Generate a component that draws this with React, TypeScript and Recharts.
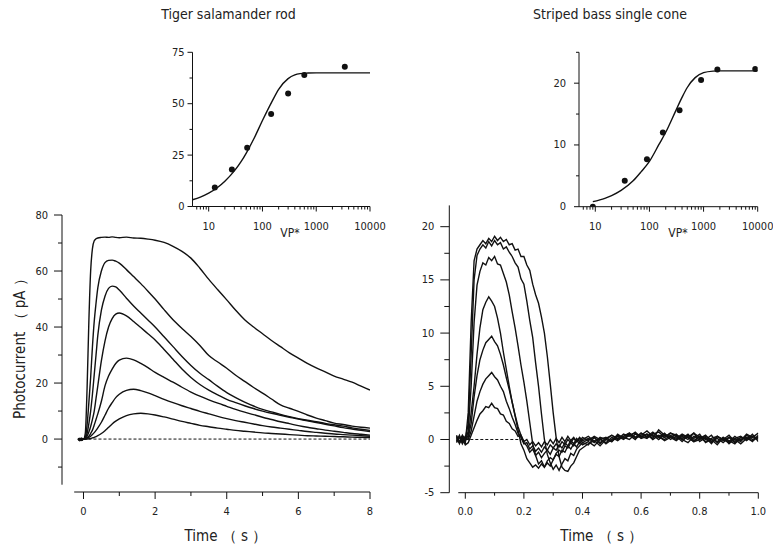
import { ComposedChart, Line, LineChart, ReferenceLine, Scatter, XAxis, YAxis } from 'recharts';

const FONT = '"DejaVu Sans Condensed", "Noto Sans", "DejaVu Sans", sans-serif';
const INK = '#111';
const TXT = '#222';

// ---- tiger salamander rod: flash responses (time in s, current in pA)
const rodTime = [
  -0.15, -0.1, -0.05, 0, 0.05, 0.1, 0.15, 0.2, 0.25, 0.3, 0.35, 0.4, 0.5, 0.6, 0.7, 0.8, 0.9, 1.0,
  1.2, 1.4, 1.6, 1.8, 2.0, 2.25, 2.5, 2.75, 3.0, 3.25, 3.5, 3.75, 4.0, 4.25, 4.5, 4.75, 5.0,
  5.25, 5.5, 5.75, 6.0, 6.25, 6.5, 6.75, 7.0, 7.25, 7.5, 7.75, 8.0,
];
const rodTrace1 = [0.2, -0.4, 0.1, 0, 2, 18, 42, 60, 68, 70.8, 71.5, 71.8, 72.0, 72.1, 72.0, 72.2, 72.0, 71.9, 72.1, 71.8, 71.7, 71.4, 71.0, 70.2, 68.8, 67.0, 64.6, 61.0, 57.0, 53.3, 49.7, 46.0, 42.6, 40.0, 37.6, 35.2, 33.0, 30.8, 28.9, 27.0, 25.4, 24.0, 22.5, 21.4, 20.3, 18.9, 17.5];
const rodTrace2 = [0.1, -0.3, 0.2, 0, 0.5, 5, 13, 22, 33, 42, 48.5, 54, 60, 63, 63.8, 63.9, 63.5, 62.8, 60.5, 58, 55.5, 52.8, 50, 46.2, 42.6, 39.5, 36.6, 33.4, 29.8, 27.5, 25.3, 22.8, 20.6, 18.4, 16.4, 14.3, 12.2, 11.0, 9.9, 8.6, 7.5, 6.6, 5.7, 5.2, 4.6, 4.2, 3.9];
const rodTrace3 = [0.0, -0.5, 0.3, 0, 0.3, 2, 5.5, 10, 16, 23, 30, 37, 46, 51, 53.8, 54.6, 54.3, 53.2, 50.3, 47.5, 45, 42.5, 40, 36.5, 33, 29.5, 26.3, 23.5, 21.2, 18.8, 16.6, 14.8, 13.2, 11.8, 10.6, 9.7, 8.8, 8.0, 7.3, 6.7, 6.2, 5.6, 5.1, 4.6, 4.0, 3.5, 3.1];
const rodTrace4 = [0.2, -0.2, -0.3, 0, 0.2, 1, 2.5, 4.5, 7, 10, 14.5, 19, 28, 35, 40, 43, 44.6, 45, 44, 42, 39.8, 37.6, 35.4, 32, 28.5, 25, 22, 19.5, 17.5, 15.8, 14.2, 13, 11.9, 10.9, 10, 9.2, 8.5, 7.8, 7.1, 6.5, 5.9, 5.3, 4.7, 4.1, 3.6, 3.1, 2.7];
const rodTrace5 = [-0.2, 0.3, -0.4, 0, 0, 0.5, 1, 2, 3.2, 5, 7, 9, 13.5, 19, 22.5, 25, 27, 28.2, 28.9, 28.3, 27, 25.5, 23.8, 22, 20.3, 18.5, 16.8, 15.3, 14, 12.8, 11.7, 10.6, 9.6, 8.7, 7.8, 7.0, 6.2, 5.5, 4.8, 4.2, 3.7, 3.2, 2.8, 2.4, 2.0, 1.7, 1.4];
const rodTrace6 = [0.3, -0.1, -0.5, 0, 0, 0.3, 0.6, 1, 1.6, 2.3, 3.1, 4, 6, 8.5, 11, 13, 14.8, 16, 17.4, 17.8, 17.3, 16.5, 15.5, 14.2, 13, 11.9, 10.9, 9.9, 9.0, 8.1, 7.3, 6.6, 6.0, 5.4, 4.8, 4.3, 3.9, 3.5, 3.1, 2.7, 2.4, 2.1, 1.8, 1.6, 1.4, 1.2, 1.0];
const rodTrace7 = [-0.1, -0.6, 0.2, 0, 0, 0, 0.1, 0.2, 0.4, 0.6, 0.9, 1.2, 2, 3, 4.2, 5.4, 6.4, 7.2, 8.4, 9.0, 9.2, 9.0, 8.6, 7.9, 7.1, 6.3, 5.6, 4.9, 4.4, 3.9, 3.5, 3.1, 2.8, 2.5, 2.2, 2.0, 1.8, 1.6, 1.4, 1.2, 1.1, 1.0, 0.9, 0.8, 0.7, 0.6, 0.5];

// ---- striped bass single cone: flash responses
const coneTime = [
  -0.03, -0.02, -0.01, 0, 0.01, 0.02, 0.03, 0.04, 0.05, 0.06, 0.07, 0.08, 0.09, 0.1,
  0.11, 0.12, 0.13, 0.14, 0.15, 0.16, 0.17, 0.18, 0.19, 0.2, 0.21, 0.22, 0.23, 0.24, 0.25, 0.26,
  0.27, 0.28, 0.29, 0.3, 0.31, 0.32, 0.33, 0.34, 0.35, 0.36, 0.37, 0.38, 0.39, 0.4,
  0.42, 0.44, 0.46, 0.48, 0.5, 0.52, 0.54, 0.56, 0.58, 0.6, 0.62, 0.64, 0.66, 0.68, 0.7,
  0.72, 0.74, 0.76, 0.78, 0.8, 0.82, 0.84, 0.86, 0.88, 0.9, 0.92, 0.94, 0.96, 0.98, 1.0,
];
const coneTrace1 = [0.3, -0.4, 0.2, -0.3, 2.5, 11, 16.8, 17.9, 18.3, 18.7, 18.4, 18.9, 18.6, 19.1, 18.7, 19.0, 18.6, 18.8, 18.3, 18.4, 17.8, 17.9, 17.2, 17.2, 16.4, 15.9, 14.6, 13.6, 12.8, 11.5, 10.0, 7.8, 5.2, 2.5, 0.2, -1.6, -2.6, -2.9, -3.0, -2.5, -2.2, -1.6, -1.0, -0.8,
  -0.4, -0.1, -0.6, 0.0, -0.2, 0.3, 0.1, 0.5, 0.2, 0.6, 0.3, 0.5, 0.7, 0.2, 0.6, 0.4, 0.1, 0.5, -0.1, 0.3, 0.0, 0.4, -0.3, 0.1, -0.2, 0.3, -0.1, 0.5, 0.2, 0.6];
const coneTrace2 = [-0.2, 0.4, -0.3, 0.1, 1.5, 8, 15, 17.3, 17.9, 18.3, 18.0, 18.6, 18.2, 18.7, 18.3, 18.5, 17.9, 18.1, 17.6, 17.2, 16.6, 16.2, 15.1, 14.6, 13.0, 11.2, 9.6, 7.2, 5.0, 2.4, 0.0, -1.4, -2.2, -2.8, -2.4, -2.9, -2.3, -1.8, -2.0, -1.3, -1.5, -0.9, -0.6, -0.3,
  -0.5, 0.2, -0.3, 0.1, 0.4, 0.0, 0.5, 0.3, 0.7, 0.2, 0.5, 0.1, 0.9, 0.4, 0.3, 0.0, 0.4, 0.2, 0.6, -0.2, 0.2, -0.4, 0.3, 0.0, -0.3, 0.1, -0.2, 0.4, 0.0, 0.3];
const coneTrace3 = [0.1, -0.3, 0.3, -0.2, 0.8, 5, 11, 14.5, 15.8, 16.6, 16.4, 17.1, 16.8, 17.2, 16.5, 16.4, 15.6, 14.8, 13.6, 12.0, 10.5, 8.8, 7.0, 5.4, 3.6, 1.6, -0.4, -1.5, -2.3, -2.0, -2.6, -2.2, -2.5, -1.9, -1.4, -1.6, -1.0, -1.2, -0.6, -0.9, -0.4, -0.7, -0.2, -0.5,
  -0.2, -0.6, 0.0, -0.3, 0.2, -0.1, 0.3, 0.6, 0.1, 0.4, 0.8, 0.3, 0.2, 0.6, 0.0, 0.3, -0.2, 0.4, 0.1, 0.5, -0.3, 0.0, -0.5, 0.2, -0.1, -0.4, 0.2, 0.0, 0.5, -0.2];
const coneTrace4 = [-0.3, 0.2, -0.1, 0.3, 0.3, 2.5, 5.0, 8.0, 10.5, 12.2, 12.9, 13.4, 13.0, 12.5, 11.4, 10.0, 8.2, 6.6, 5.0, 3.5, 2.2, 0.9, -0.4, -1.0, -1.8, -2.2, -2.6, -2.4, -2.7, -2.3, -2.6, -2.0, -1.7, -1.9, -1.3, -1.0, -1.2, -0.6, -0.8, -0.3, -0.6, -0.1, -0.4, 0.0,
  0.3, -0.2, 0.1, -0.4, 0.0, 0.4, 0.2, 0.0, 0.5, 0.3, 0.1, 0.6, 0.3, -0.1, 0.2, 0.5, 0.0, -0.3, 0.3, 0.1, 0.4, -0.2, 0.1, -0.3, 0.2, 0.0, -0.4, 0.1, 0.3, 0.0];
const coneTrace5 = [0.2, -0.2, 0.4, 0, 0.2, 1.5, 4.0, 6.0, 7.5, 8.4, 9.1, 9.4, 9.7, 9.2, 8.8, 8.0, 7.0, 5.8, 4.7, 3.5, 2.3, 1.2, 0.4, -0.3, -0.6, -1.2, -0.9, -1.5, -1.2, -1.7, -1.3, -1.0, -1.4, -0.8, -1.0, -0.5, -0.8, -0.3, -0.6, -0.1, -0.4, 0.1, -0.2, 0.2,
  -0.1, 0.3, 0.0, 0.2, -0.2, 0.5, 0.1, 0.4, 0.0, 0.6, 0.2, 0.4, 0.0, 0.5, 0.2, -0.1, 0.3, 0.0, 0.6, 0.2, -0.2, 0.1, 0.3, -0.1, 0.2, -0.3, 0.0, 0.2, -0.2, 0.4];
const coneTrace6 = [-0.1, 0.3, -0.4, 0.1, 0.0, 0.8, 2.2, 3.6, 4.5, 5.2, 5.7, 6.0, 6.3, 5.9, 5.6, 5.0, 4.5, 3.6, 2.9, 2.1, 1.4, 0.6, 0.2, -0.4, -0.3, -0.9, -0.6, -1.1, -0.8, -1.2, -0.7, -1.0, -0.5, -0.8, -0.4, -0.7, -0.2, -0.5, 0.0, -0.3, 0.1, -0.2, 0.2, -0.1,
  0.1, -0.3, 0.2, 0.0, 0.4, 0.1, 0.3, 0.6, 0.2, 0.3, 0.5, 0.0, 0.4, 0.2, 0.6, 0.3, 0.0, 0.2, -0.2, 0.3, 0.1, -0.3, 0.3, 0.0, 0.4, -0.2, 0.2, 0.1, -0.1, 0.2];
const coneTrace7 = [0.4, -0.3, 0.1, -0.5, -0.3, 0.4, 1.1, 1.8, 2.4, 2.7, 3.1, 3.0, 3.4, 3.0, 2.9, 2.4, 2.3, 1.7, 1.5, 1.0, 0.8, 0.3, 0.4, -0.2, 0.0, -0.5, -0.2, -0.6, -0.3, -0.7, -0.2, -0.5, 0.0, -0.4, 0.1, -0.3, 0.2, -0.2, 0.3, -0.1, 0.2, -0.2, 0.1, -0.3,
  0.0, 0.2, -0.4, 0.1, -0.1, 0.3, 0.0, 0.4, 0.6, 0.1, 0.3, 0.7, 0.2, 0.0, 0.4, 0.1, 0.5, 0.2, -0.2, 0.0, 0.3, 0.0, -0.2, 0.2, -0.4, 0.1, 0.3, -0.1, 0.3, 0.1];

// ---- intensity-response insets (VP* vs peak pA)
const rodPointX = [13, 27, 52, 145, 300, 600, 3400];
const rodPointY = [9.2, 18, 28.6, 45, 55, 64, 68];
const rodFitX = [5, 7, 10, 15, 20, 30, 40, 50, 70, 100, 150, 200, 300, 400, 500, 700, 1000, 2000, 10000];
const rodFitY = [3.3, 4.6, 6.5, 9.5, 12.3, 17.3, 21.8, 26.0, 33.2, 41.8, 51.0, 57.0, 62.2, 64.0, 64.6, 64.9, 65.0, 65.0, 65.0];

const conePointX = [9, 35, 90, 177, 360, 900, 1800, 9000];
const conePointY = [0, 4.2, 7.7, 12, 15.6, 20.5, 22.2, 22.3];
const coneFitX = [9, 15, 20, 30, 50, 70, 100, 150, 200, 300, 400, 500, 700, 1000, 1500, 2000, 10000];
const coneFitY = [0.82, 1.36, 1.79, 2.63, 4.19, 5.64, 7.34, 10.08, 12.05, 15.36, 17.7, 19.3, 20.9, 21.7, 21.96, 22.0, 22.0];

const logTicks = [6, 7, 8, 9, 10, 20, 30, 40, 50, 60, 70, 80, 90, 100, 200, 300, 400, 500, 600, 700, 800, 900, 1000, 2000, 3000, 4000, 5000, 6000, 7000, 8000, 9000, 10000];

const rodTraces = [rodTrace1, rodTrace2, rodTrace3, rodTrace4, rodTrace5, rodTrace6, rodTrace7];
const coneTraces = [coneTrace1, coneTrace2, coneTrace3, coneTrace4, coneTrace5, coneTrace6, coneTrace7];

const rodRows = rodTime.map((t, i) => {
  const row: Record<string, number> = { t };
  rodTraces.forEach((tr, k) => (row['r' + k] = tr[i]));
  return row;
});
const coneRows = coneTime.map((t, i) => {
  const row: Record<string, number> = { t };
  coneTraces.forEach((tr, k) => (row['c' + k] = tr[i]));
  return row;
});
const rodFit = rodFitX.map((x, i) => ({ x, y: rodFitY[i] }));
const rodPoints = rodPointX.map((x, i) => ({ x, y: rodPointY[i] }));
const coneFit = coneFitX.map((x, i) => ({ x, y: coneFitY[i] }));
const conePoints = conePointX.map((x, i) => ({ x, y: conePointY[i] }));

type TickOpts = { isMajor: (v: number) => boolean; major: number; minor: number; gap: number; fmt: (v: number) => string };

// tickSize/tickMargin are 0, so x/y arrive on the axis line itself
const leftTick = (o: TickOpts) => (p: any) => {
  const v = p.payload.value;
  const big = o.isMajor(v);
  return (
    <g>
      <line x1={p.x} x2={p.x - (big ? o.major : o.minor)} y1={p.y} y2={p.y} stroke={INK} />
      {big && (
        <text x={p.x - o.major - o.gap} y={p.y} textAnchor="end" dominantBaseline="central" fontSize={11} fill={TXT}>
          {o.fmt(v)}
        </text>
      )}
    </g>
  );
};

const bottomTick = (o: TickOpts) => (p: any) => {
  const v = p.payload.value;
  const big = o.isMajor(v);
  return (
    <g>
      <line x1={p.x} x2={p.x} y1={p.y} y2={p.y + (big ? o.major : o.minor)} stroke={INK} />
      {big && (
        <text x={p.x} y={p.y + o.gap} textAnchor="middle" dominantBaseline="central" fontSize={11} fill={TXT}>
          {o.fmt(v)}
        </text>
      )}
    </g>
  );
};

const isPow10 = (v: number) => [10, 100, 1000, 10000].includes(v);
const plain = (v: number) => String(v);

const Title = ({ text, cx }: { text: string; cx: number }) => (
  <div style={{ position: 'absolute', left: cx - 120, top: 4, width: 240, textAlign: 'center', fontSize: 14, lineHeight: '20px', color: '#222' }}>
    {text}
  </div>
);

export default function App() {
  const traceProps = { stroke: INK, strokeWidth: 1.4, dot: false, isAnimationActive: false } as const;
  return (
    <div style={{ position: 'absolute', left: 0, top: 0, width: 773, height: 551, background: '#fff', fontFamily: FONT }}>
      {/* rod responses */}
      <div style={{ position: 'absolute', left: 0, top: 195 }}>
        <LineChart width={385} height={356} data={rodRows} margin={{ top: 20, right: 15, bottom: 29, left: 12 }}>
          <XAxis
            dataKey="t" type="number" domain={[-0.6, 8]} allowDataOverflow ticks={[0, 1, 2, 3, 4, 5, 6, 7, 8]} interval={0}
            axisLine={false} tickLine={false} tickSize={0} tickMargin={0} height={30}
            tick={bottomTick({ isMajor: (v) => v % 2 === 0, major: 7, minor: 4, gap: 19, fmt: plain })}
            label={(p: any) => (
              <text x={p.viewBox.x + p.viewBox.width / 2 + 10} y={p.viewBox.y + 44} textAnchor="middle" dominantBaseline="central" fontSize={15} fill="#222">
                Time （ s ）
              </text>
            )}
          />
          <YAxis
            type="number" domain={[-18.9, 80]} allowDataOverflow ticks={[-10, 0, 10, 20, 30, 40, 50, 60, 70, 80]} interval={0}
            axisLine={false} tickLine={false} tickSize={0} tickMargin={0} width={50}
            tick={leftTick({ isMajor: (v) => v % 20 === 0, major: 8, minor: 4, gap: 6, fmt: plain })}
            label={(p: any) => (
              <text x={p.viewBox.x + 8} y={p.viewBox.y + 130} transform={`rotate(-90 ${p.viewBox.x + 8} ${p.viewBox.y + 130})`} textAnchor="middle" dominantBaseline="central" fontSize={15} fill="#222">
                Photocurrent （ pA ）
              </text>
            )}
          />
          <ReferenceLine segment={[{ x: -0.6, y: -16.3 }, { x: -0.6, y: 80 }]} stroke={INK} ifOverflow="visible" />
          <ReferenceLine segment={[{ x: -0.26, y: -18.9 }, { x: 8, y: -18.9 }]} stroke={INK} ifOverflow="visible" />
          <ReferenceLine segment={[{ x: 0, y: 0 }, { x: 8, y: 0 }]} stroke={INK} strokeDasharray="3 2" ifOverflow="visible" />
          {rodTraces.map((_, k) => (
            <Line key={k} dataKey={'r' + k} type="monotone" {...traceProps} />
          ))}
        </LineChart>
      </div>

      {/* cone responses */}
      <div style={{ position: 'absolute', left: 390, top: 190 }}>
        <LineChart width={383} height={361} data={coneRows} margin={{ top: 15.4, right: 14.7, bottom: 28.3, left: 14.3 }}>
          <XAxis
            dataKey="t" type="number" domain={[-0.0546, 1.0]} allowDataOverflow ticks={[0, 0.1, 0.2, 0.3, 0.4, 0.5, 0.6, 0.7, 0.8, 0.9, 1.0]} interval={0}
            axisLine={false} tickLine={false} tickSize={0} tickMargin={0} height={30}
            tick={bottomTick({ isMajor: (v) => Math.round(v * 10) % 2 === 0, major: 6, minor: 3, gap: 19, fmt: (v) => v.toFixed(1) })}
            label={(p: any) => (
              <text x={p.viewBox.x + p.viewBox.width / 2 - 2} y={p.viewBox.y + 43.5} textAnchor="middle" dominantBaseline="central" fontSize={15} fill="#222">
                Time （ s ）
              </text>
            )}
          />
          <YAxis
            type="number" domain={[-5, 22]} allowDataOverflow ticks={[-5, -2.5, 0, 2.5, 5, 7.5, 10, 12.5, 15, 17.5, 20]} interval={0}
            axisLine={{ stroke: INK }} tickLine={false} tickSize={0} tickMargin={0} width={45}
            tick={leftTick({ isMajor: (v) => v % 5 === 0, major: 9, minor: 5, gap: 6, fmt: plain })}
          />
          <ReferenceLine segment={[{ x: -0.024, y: -5 }, { x: 1.0, y: -5 }]} stroke={INK} ifOverflow="visible" />
          <ReferenceLine segment={[{ x: 0, y: 0 }, { x: 0.2, y: 0 }]} stroke={INK} strokeDasharray="3 2" ifOverflow="visible" />
          {coneTraces.map((_, k) => (
            <Line key={k} dataKey={'c' + k} type="linear" {...traceProps} />
          ))}
        </LineChart>
      </div>

      {/* rod intensity-response inset */}
      <div style={{ position: 'absolute', left: 140, top: 40 }}>
        <ComposedChart width={260} height={200} margin={{ top: 12.3, right: 30, bottom: 13.5, left: 17.5 }}>
          <XAxis
            dataKey="x" type="number" scale="log" domain={[5, 10000]} allowDataOverflow ticks={logTicks} interval={0}
            axisLine={{ stroke: INK }} tickLine={false} tickSize={0} tickMargin={0} height={20}
            tick={bottomTick({ isMajor: isPow10, major: 5, minor: 3, gap: 19.5, fmt: plain })}
            label={() => (
              <text x={150} y={193} textAnchor="middle" dominantBaseline="central" fontSize={12} fill="#222">VP*</text>
            )}
          />
          <YAxis
            dataKey="y" type="number" domain={[0, 75]} allowDataOverflow ticks={[0, 12.5, 25, 37.5, 50, 62.5, 75]} interval={0}
            axisLine={{ stroke: INK }} tickLine={false} tickSize={0} tickMargin={0} width={35}
            tick={leftTick({ isMajor: (v) => v % 25 === 0, major: 5, minor: 3, gap: 3, fmt: plain })}
          />
          <Line data={rodFit} dataKey="y" type="monotone" stroke={INK} strokeWidth={1.4} dot={false} isAnimationActive={false} />
          <Scatter data={rodPoints} dataKey="y" fill={INK} isAnimationActive={false}
            shape={(p: any) => <circle cx={p.cx} cy={p.cy} r={3} fill={INK} />} />
        </ComposedChart>
      </div>

      {/* cone intensity-response inset */}
      <div style={{ position: 'absolute', left: 520, top: 40 }}>
        <ComposedChart width={253} height={200} margin={{ top: 12.3, right: 15.3, bottom: 13.3, left: 24 }}>
          <XAxis
            dataKey="x" type="number" scale="log" domain={[5, 10000]} allowDataOverflow ticks={logTicks} interval={0}
            axisLine={{ stroke: INK }} tickLine={false} tickSize={0} tickMargin={0} height={20}
            tick={bottomTick({ isMajor: isPow10, major: 5, minor: 3, gap: 19.3, fmt: plain })}
            label={() => (
              <text x={158} y={193} textAnchor="middle" dominantBaseline="central" fontSize={12} fill="#222">VP*</text>
            )}
          />
          <YAxis
            dataKey="y" type="number" domain={[0, 25]} allowDataOverflow ticks={[0, 5, 10, 15, 20, 25]} interval={0}
            axisLine={{ stroke: INK }} tickLine={false} tickSize={0} tickMargin={0} width={35}
            tick={leftTick({ isMajor: (v) => v % 10 === 0, major: 5, minor: 3, gap: 8, fmt: plain })}
          />
          <Line data={coneFit} dataKey="y" type="monotone" stroke={INK} strokeWidth={1.4} dot={false} isAnimationActive={false} />
          <Scatter data={conePoints} dataKey="y" fill={INK} isAnimationActive={false}
            shape={(p: any) => <circle cx={p.cx} cy={p.cy} r={3} fill={INK} />} />
        </ComposedChart>
      </div>

      <Title text="Tiger salamander rod" cx={228.5} />
      <Title text="Striped bass single cone" cx={610} />
    </div>
  );
}
